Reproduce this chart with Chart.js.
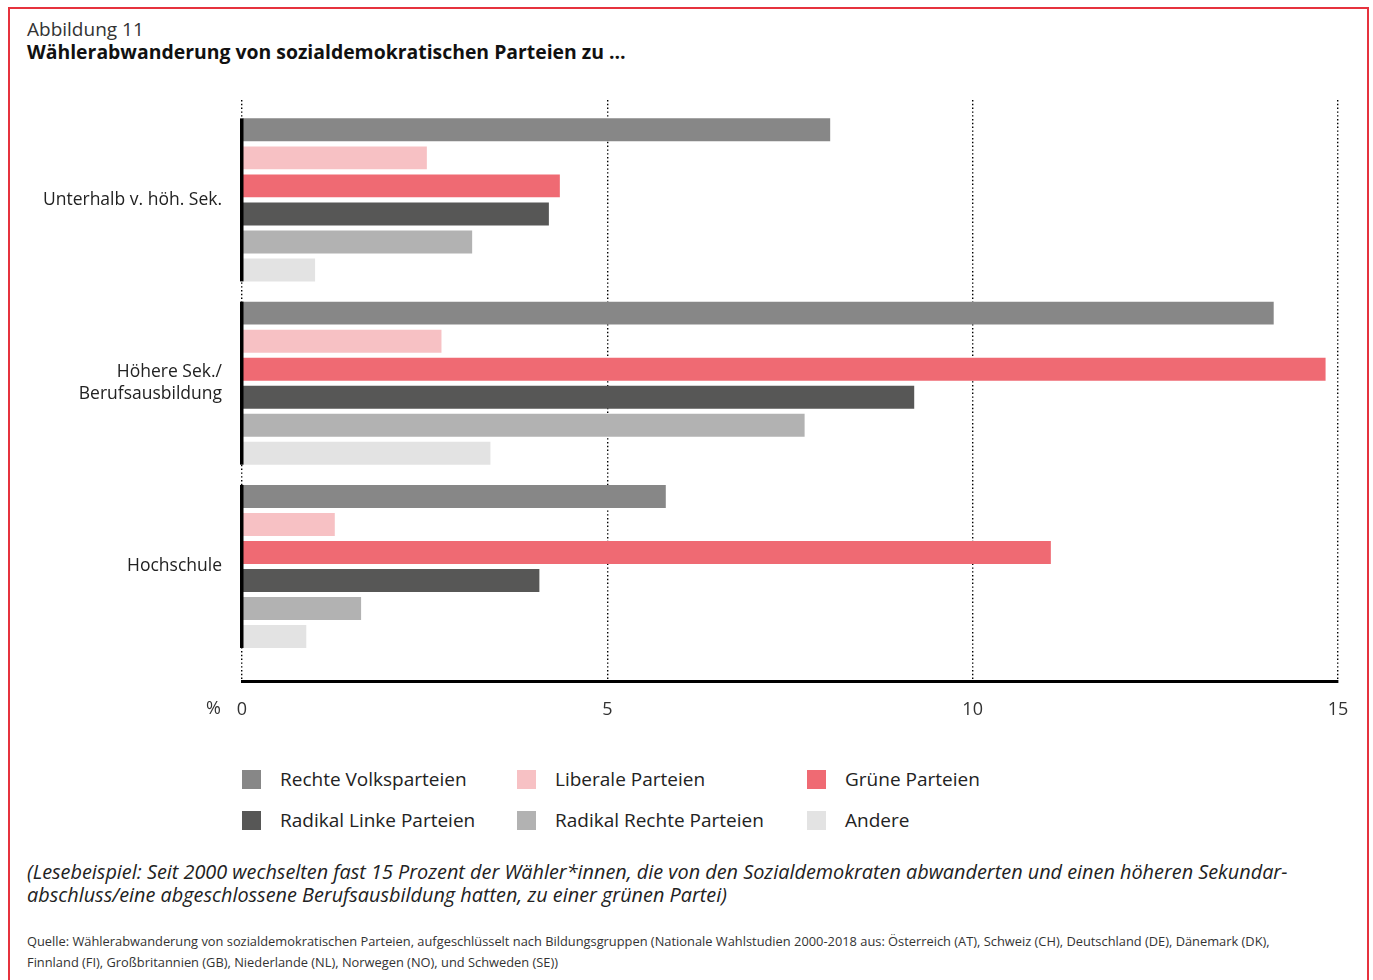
<!DOCTYPE html>
<html lang="de">
<head>
<meta charset="utf-8">
<title>Abbildung 11</title>
<script src="https://cdn.jsdelivr.net/npm/chart.js@4.4.1/dist/chart.umd.min.js"></script>
<style>
  html, body { margin: 0; padding: 0; background: #fff; }
  body { width: 1373px; height: 980px; position: relative; overflow: hidden; font-family: "Open Sans", sans-serif; color: #222; }
  .frame { position: absolute; left: 8px; top: 7px; width: 1361px; height: 990px; border: 2px solid #e6323d; box-sizing: border-box; }
  #chartBox { position: absolute; left: 0; top: 0; width: 1373px; height: 740px; }
  .kicker { position: absolute; left: 27px; top: 16px; font-size: 19px; color: #333; }
  .title { position: absolute; left: 27px; top: 38px; font-size: 19.4px; font-weight: bold; color: #111; }
  .legend { position: absolute; left: 0; top: 0; }
  .legend .item { position: absolute; display: flex; align-items: center; font-size: 19px; color: #222; white-space: nowrap; }
  .legend .sw { width: 19px; height: 19px; margin-right: 19px; }
  .note { position: absolute; left: 27px; top: 860px; font-size: 19.85px; font-style: italic; line-height: 23px; color: #222; }
  .src { position: absolute; left: 27px; top: 931px; font-size: 12.85px; line-height: 21px; color: #333; }
</style>
</head>
<body>
<div class="frame"></div>
<div class="kicker">Abbildung 11</div>
<div class="title">Wählerabwanderung von sozialdemokratischen Parteien zu …</div>
<div id="chartBox"><canvas id="chart" width="1373" height="740"></canvas></div>
<div class="legend" id="legend"></div>
<div class="note">(Lesebeispiel: Seit 2000 wechselten fast 15 Prozent der Wähler*innen, die von den Sozialdemokraten abwanderten und einen höheren Sekundar-<br>abschluss/eine abgeschlossene Berufsausbildung hatten, zu einer grünen Partei)</div>
<div class="src">Quelle: Wählerabwanderung von sozialdemokratischen Parteien, aufgeschlüsselt nach Bildungsgruppen (Nationale Wahlstudien 2000-2018 aus: Österreich (AT), Schweiz (CH), Deutschland (DE), Dänemark (DK),<br>Finnland (FI), Großbritannien (GB), Niederlande (NL), Norwegen (NO), und Schweden (SE))</div>

<script>
// Bildungsgruppen (von oben nach unten)
var groups = [
    'Unterhalb v. höh. Sek.',
    ['Höhere Sek./', 'Berufsausbildung'],
    'Hochschule'
]

// Parteifamilien
var parties = ['Rechte Volksparteien', 'Liberale Parteien', 'Grüne Parteien',
               'Radikal Linke Parteien', 'Radikal Rechte Parteien', 'Andere']
var colors = ['#878787', '#f7c1c4', '#ef6a73', '#575756', '#b2b2b2', '#e3e3e3']

// Anteile in % je Bildungsgruppe
var rechteVolks  = [8.05, 14.12, 5.8]
var liberale     = [2.53, 2.73, 1.27]
var gruene       = [4.35, 14.83, 11.07]
var radikalLinke = [4.2, 9.2, 4.07]
var radikalRechte= [3.15, 7.7, 1.63]
var andere       = [1.0, 3.4, 0.88]
var values = [rechteVolks, liberale, gruene, radikalLinke, radikalRechte, andere]

var xTicks = [0, 5, 10, 15]

var datasets = parties.map(function(p, k){
    return {
        label: p,
        backgroundColor: colors[k],
        borderWidth: 0,
        data: values[k].map(function(v, i){ return {x: v, y: i} }),
        categoryPercentage: 0.917,
        barPercentage: 0.82
    }
})

// schwarze Achsenstücke an den Balkengruppen + Prozentzeichen
var axisMarks = {
    id: 'axisMarks',
    afterDatasetsDraw: function(chart){
        var ctx = chart.ctx
        var first = chart.getDatasetMeta(0).data
        var last = chart.getDatasetMeta(datasets.length - 1).data
        var left = chart.chartArea.left
        ctx.save()
        ctx.fillStyle = '#000'
        for (var i = 0; i < first.length; i++) {
            var top = first[i].y - first[i].height / 2
            var bot = last[i].y + last[i].height / 2
            ctx.fillRect(left - 2, top, 3.5, bot - top)
        }
        ctx.fillStyle = '#333'
        ctx.font = '18px "Open Sans"'
        ctx.textAlign = 'right'
        ctx.textBaseline = 'middle'
        ctx.fillText('%', 221, 709)
        ctx.restore()
    }
}

var chart = new Chart(document.getElementById('chart').getContext('2d'), {
    type: 'bar',
    plugins: [axisMarks],
    data: { datasets: datasets },
    options: {
        responsive: false,
        animation: false,
        indexAxis: 'y',
        layout: { padding: { left: 0, top: 100, right: 35, bottom: 0 } },
        plugins: {
            legend: { display: false },
            tooltip: { enabled: false }
        },
        scales: {
            x: {
                type: 'linear',
                min: 0,
                max: 15,
                bounds: 'data',
                afterBuildTicks: function(scale){
                    scale.ticks = xTicks.map(function(v){ return {value: v} })
                },
                afterFit: function(scale){ scale.height = 59 },
                grid: {
                    color: '#000',
                    lineWidth: 1.4,
                    drawTicks: false
                },
                border: { display: true, color: '#000', width: 3, dash: [1.4, 2.4] },
                ticks: {
                    padding: 18,
                    color: '#333',
                    font: { family: 'Open Sans', size: 18 }
                }
            },
            y: {
                type: 'linear',
                reverse: true,
                offset: false,
                min: -0.545,
                max: 2.625,
                bounds: 'data',
                afterBuildTicks: function(scale){
                    scale.ticks = groups.map(function(g, i){ return {value: i} })
                },
                afterFit: function(scale){ scale.width = 242 },
                grid: { display: false },
                border: { display: false },
                ticks: {
                    padding: 12,
                    color: '#222',
                    font: { family: 'Open Sans', size: 17.5, lineHeight: 1.25 },
                    callback: function(v){ return groups[v] }
                }
            }
        }
    }
})

// Legende: drei Spalten, zwei Zeilen
var legendCols = [242, 517, 807]
var legendRows = [766, 807]
var box = document.getElementById('legend')
parties.forEach(function(p, k){
    var el = document.createElement('div')
    el.className = 'item'
    el.style.left = legendCols[k % 3] + 'px'
    el.style.top = legendRows[Math.floor(k / 3)] + 'px'
    el.innerHTML = '<span class="sw" style="background:' + colors[k] + '"></span><span>' + p + '</span>'
    box.appendChild(el)
})
</script>
</body>
</html>
